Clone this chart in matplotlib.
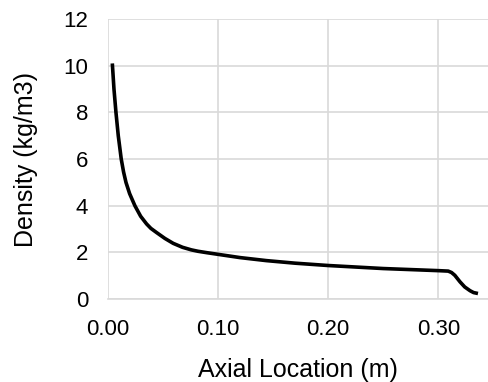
import matplotlib.pyplot as plt

# datos
x_loc = [0.0043, 0.0058, 0.0076, 0.0097, 0.0124, 0.0145, 0.0167, 0.0200, 0.0248,
         0.0300, 0.0354, 0.0393, 0.0445, 0.0520, 0.0595, 0.0680, 0.0760, 0.0820,
         0.0900, 0.1000, 0.1200, 0.1440, 0.1700, 0.2000, 0.2500, 0.3000, 0.3090,
         0.3120, 0.3150, 0.3197, 0.3240, 0.3288, 0.3320, 0.3360]
density = [10.1, 9.0, 8.0, 7.0, 6.0, 5.45, 5.0, 4.52, 4.0,
           3.55, 3.22, 3.03, 2.85, 2.6, 2.39, 2.22, 2.11, 2.05,
           1.99, 1.92, 1.78, 1.65, 1.54, 1.44, 1.31, 1.22, 1.2,
           1.14, 1.02, 0.74, 0.52, 0.36, 0.28, 0.24]
x_ticks = [0.0, 0.1, 0.2, 0.3]
x_labels = ["0.00", "0.10", "0.20", "0.30"]
y_ticks = [0, 2, 4, 6, 8, 10, 12]

plt.rcParams['font.family'] = ['Liberation Sans', 'DejaVu Sans']
fig = plt.figure(figsize=(4.89, 3.82), dpi=100)
ax = fig.add_axes([0.22, 0.217, 0.78, 0.733])

ax.plot(x_loc, density, color='black', lw=2.6, solid_capstyle='butt',
        solid_joinstyle='round', zorder=3)

ax.set_xlim(0, 0.346)
ax.set_ylim(0, 12)
ax.set_xticks(x_ticks)
ax.set_xticklabels(x_labels)
ax.set_yticks(y_ticks)
ax.grid(True, color='#d9d9d9', lw=1.2)
ax.set_axisbelow(True)
for s in ['top', 'right', 'left']:
    ax.spines[s].set_visible(False)
ax.spines['bottom'].set_color('#d9d9d9')
ax.spines['bottom'].set_linewidth(1.2)
ax.tick_params(axis='y', length=0, labelsize=16, pad=14)
ax.tick_params(axis='x', length=0, labelsize=16, pad=14)
ax.set_xlabel("Axial Location (m)", fontsize=18, labelpad=13)
ax.set_ylabel("Density (kg/m3)", fontsize=18, labelpad=18)

fig.savefig("out.png", dpi=100)
